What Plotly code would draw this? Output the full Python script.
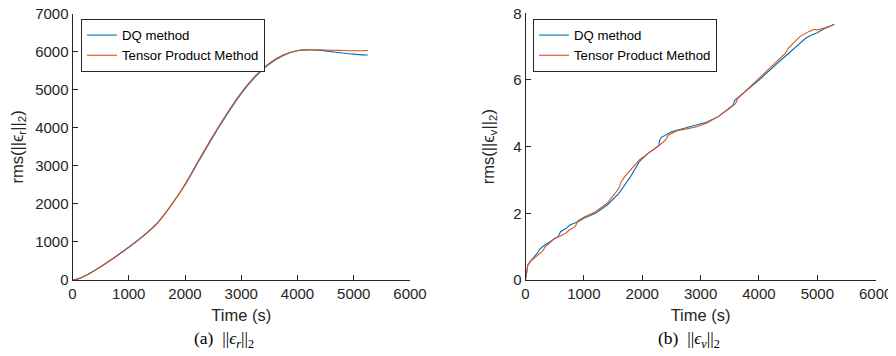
import plotly.graph_objects as go

# ---- data: left panel (position error) ----
t_r = [0, 100, 250, 500, 750, 1000, 1250, 1500, 1750, 2000, 2250, 2500, 2750,
       3000, 3250, 3500, 3750, 4000, 4250, 4500, 4750, 5000, 5250]
dq_r = [0, 30, 130, 350, 600, 870, 1155, 1490, 1960, 2500, 3140, 3770, 4360,
        4900, 5340, 5680, 5905, 6030, 6050, 6025, 5980, 5940, 5915]
tp_r = [0, 28, 125, 345, 590, 850, 1140, 1475, 1955, 2515, 3170, 3800, 4390,
        4930, 5370, 5700, 5920, 6035, 6055, 6048, 6038, 6030, 6035]

# ---- data: right panel (velocity error) ----
t_v_dq = [0, 15, 40, 100, 180, 210, 240, 330, 420, 500, 560, 600, 700, 760, 900,
          1000, 1200, 1400, 1600, 1800, 1950, 2100, 2280, 2300, 2330, 2500, 2800,
          3100, 3300, 3500, 3560, 3580, 3700, 4000, 4300, 4600, 4800, 4900, 5000,
          5100, 5200, 5290]
v_dq = [0, 0.25, 0.45, 0.6, 0.75, 0.82, 0.92, 1.05, 1.15, 1.25, 1.3, 1.45, 1.55,
        1.65, 1.75, 1.85, 2.0, 2.25, 2.6, 3.1, 3.55, 3.8, 4.02, 4.2, 4.28, 4.45,
        4.6, 4.73, 4.9, 5.15, 5.25, 5.38, 5.55, 6.0, 6.48, 6.95, 7.25, 7.35, 7.42,
        7.52, 7.6, 7.67]

t_v_tp = [0, 15, 40, 100, 200, 300, 330, 400, 450, 500, 600, 700, 750, 850, 900,
          1000, 1200, 1400, 1600, 1640, 1700, 1800, 1950, 2100, 2200, 2300, 2400,
          2450, 2600, 2900, 3100, 3300, 3500, 3600, 3640, 3700, 4000, 4300, 4450,
          4500, 4700, 4850, 4950, 5000, 5050, 5200, 5290]
v_tp = [0, 0.25, 0.45, 0.58, 0.72, 0.88, 0.98, 1.08, 1.15, 1.25, 1.32, 1.42, 1.5,
        1.6, 1.78, 1.88, 2.05, 2.3, 2.75, 2.95, 3.1, 3.3, 3.6, 3.8, 3.92, 4.05, 4.2,
        4.35, 4.48, 4.58, 4.7, 4.9, 5.15, 5.3, 5.45, 5.55, 6.05, 6.55, 6.8, 6.95,
        7.3, 7.45, 7.52, 7.5, 7.52, 7.6, 7.67]

x_ticks = [0, 1000, 2000, 3000, 4000, 5000, 6000]
y_ticks_r = [0, 1000, 2000, 3000, 4000, 5000, 6000, 7000]
y_ticks_v = [0, 2, 4, 6, 8]

series_names = ["DQ method", "Tensor Product Method"]
BLUE = "#0072BD"
ORANGE = "#D95319"
AX = "#262626"
SANS = "Liberation Sans, Arial, sans-serif"
SERIF = "Liberation Serif, Times New Roman, serif"

# figure fits inside the 896x356 window with the page's 8px body margin
W, H = 880, 340
OFF = 8  # page offset of the figure


def px(x):
    return (x - OFF) / W


def py(y):
    return 1 - (y - OFF) / H


fig = go.Figure()
fig.add_trace(go.Scatter(x=t_r, y=dq_r, mode="lines", name=series_names[0],
                         line=dict(color=BLUE, width=1.1, shape="spline", smoothing=0.8),
                         xaxis="x", yaxis="y", legend="legend"))
fig.add_trace(go.Scatter(x=t_r, y=tp_r, mode="lines", name=series_names[1],
                         line=dict(color=ORANGE, width=1.1, shape="spline", smoothing=0.8),
                         xaxis="x", yaxis="y", legend="legend"))
fig.add_trace(go.Scatter(x=t_v_dq, y=v_dq, mode="lines", name=series_names[0],
                         line=dict(color=BLUE, width=1.1), xaxis="x2", yaxis="y2",
                         legend="legend2"))
fig.add_trace(go.Scatter(x=t_v_tp, y=v_tp, mode="lines", name=series_names[1],
                         line=dict(color=ORANGE, width=1.1), xaxis="x2", yaxis="y2",
                         legend="legend2"))


def xaxis(domain, anchor):
    return dict(domain=domain, anchor=anchor, range=[0, 6000], tickvals=x_ticks,
                automargin=False, ticklabeloverflow="allow",
                showline=True, linecolor=AX, linewidth=1, ticks="inside",
                ticklen=5, tickcolor=AX, showgrid=False, zeroline=False,
                tickfont=dict(family=SANS, size=15, color=AX),
                title=dict(text="Time (s)", font=dict(family=SANS, size=16.5, color=AX),
                           standoff=8))


def yaxis(domain, anchor, rng, ticks, title):
    return dict(domain=domain, anchor=anchor, range=rng, tickvals=ticks,
                automargin=False, ticklabeloverflow="allow",
                showline=True, linecolor=AX, linewidth=1, ticks="inside",
                ticklen=5, tickcolor=AX, showgrid=False, zeroline=False,
                tickfont=dict(family=SANS, size=15, color=AX),
                title=dict(text=title, font=dict(family=SANS, size=16.5, color=AX),
                           standoff=14))


xd1 = [px(72.5), px(410)]
xd2 = [px(525.5), px(875.7)]
yd1 = [py(280), py(13.8)]
yd2 = [py(280), py(13.3)]

legend_common = dict(xanchor="left", yanchor="top", bordercolor=AX, borderwidth=1,
                     bgcolor="white", font=dict(family=SANS, size=13.2, color="black"),
                     tracegroupgap=0, itemwidth=30)

fig.update_layout(
    width=W, height=H, margin=dict(l=0, r=0, t=0, b=0, autoexpand=False),
    plot_bgcolor="white", paper_bgcolor="white",
    xaxis=xaxis(xd1, "y"),
    yaxis=yaxis(yd1, "x", [0, 7000], y_ticks_r, "rms(||ϵ<sub>r</sub>||<sub>2</sub>)"),
    xaxis2=xaxis(xd2, "y2"),
    yaxis2=yaxis(yd2, "x2", [0, 8], y_ticks_v, "rms(||ϵ<sub>v</sub>||<sub>2</sub>)"),
    legend=dict(x=px(81), y=py(19), **legend_common),
    legend2=dict(x=px(533), y=py(19), **legend_common),
    annotations=[
        dict(text="(a)  ||<i>ϵ<sub>r</sub></i>||<sub>2</sub>", x=px(224), y=py(339),
             xref="paper", yref="paper", showarrow=False, xanchor="center",
             yanchor="middle", font=dict(family=SERIF, size=17.5, color="black")),
        dict(text="(b)  ||<i>ϵ<sub>v</sub></i>||<sub>2</sub>", x=px(689), y=py(339),
             xref="paper", yref="paper", showarrow=False, xanchor="center",
             yanchor="middle", font=dict(family=SERIF, size=17.5, color="black")),
    ],
)

fig.write_html("out.html")
